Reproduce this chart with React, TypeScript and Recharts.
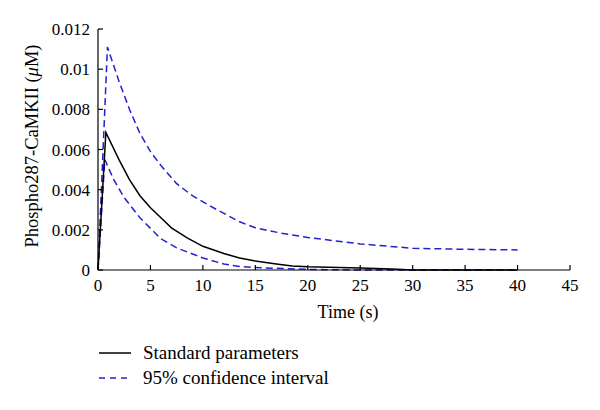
import React from "react";
import { LineChart, Line, XAxis, YAxis } from "recharts";

// time (s) and phospho287-CaMKII (uM)
const standardTime = [0, 0.75, 2, 3, 4, 5, 6, 7, 8.5, 10, 12, 13.5, 15, 17, 18.5, 20, 25, 28, 30, 40];
const standardValues = [0, 0.00685, 0.0055, 0.0045, 0.0037, 0.0031, 0.0026, 0.0021, 0.0016, 0.00118, 0.00082, 0.0006, 0.00045, 0.0003, 0.0002, 0.00016, 0.0001, 0.00005, 0, 0];

const upperTime = [0, 0.9, 2, 3, 4, 5, 6, 7.5, 9, 11, 13.5, 15, 17.5, 20, 25, 30, 35, 40];
const upperValues = [0, 0.0111, 0.0094, 0.008, 0.0068, 0.0059, 0.0052, 0.0043, 0.0037, 0.0031, 0.0024, 0.0021, 0.00183, 0.00162, 0.0013, 0.00108, 0.00103, 0.001];

const lowerTime = [0, 0.65, 1.5, 2.5, 4, 6, 7.5, 10, 12, 13.5, 16, 20, 25, 40];
const lowerValues = [0, 0.0055, 0.0045, 0.0036, 0.0026, 0.00155, 0.0011, 0.0006, 0.0003, 0.00017, 0.0001, 0.00003, 0, 0];

const xTicks = [0, 5, 10, 15, 20, 25, 30, 35, 40, 45];
const yTicks = [0, 0.002, 0.004, 0.006, 0.008, 0.01, 0.012];

const legendLabels = ["Standard parameters", "95% confidence interval"];

const toPoints = (t: number[], v: number[]) => t.map((x, i) => ({ t: x, v: v[i] }));

const FONT = "'Liberation Serif', 'DejaVu Serif', serif";
const BLUE = "#2222cc";

const XTick = ({ x, y, payload }: any) => (
  <g>
    <line x1={x} x2={x} y1={y} y2={y - 5} stroke="#000" strokeWidth={1.2} />
    <text x={x} y={y + 21} textAnchor="middle" fontFamily={FONT} fontSize={17} fill="#000">
      {payload.value}
    </text>
  </g>
);

const YTick = ({ x, y, payload }: any) => (
  <g>
    <line x1={x} x2={x + 5} y1={y} y2={y} stroke="#000" strokeWidth={1.2} />
    <text x={x - 8} y={y + 6} textAnchor="end" fontFamily={FONT} fontSize={17} fill="#000">
      {payload.value === 0 ? "0" : String(payload.value)}
    </text>
  </g>
);

const YLabel = () => (
  <text
    x={38}
    y={146}
    transform="rotate(-90, 38, 146)"
    textAnchor="middle"
    fontFamily={FONT}
    fontSize={18.5}
    fill="#000"
  >
    Phospho287-CaMKII (<tspan fontStyle="italic">μ</tspan>M)
  </text>
);

const LegendBox = () => (
  <div style={{ position: "absolute", left: 99, top: 340, fontFamily: FONT, fontSize: 19, color: "#000" }}>
    {legendLabels.map((label, i) => (
      <div key={label} style={{ display: "flex", alignItems: "center", height: 25 }}>
        <svg width={44} height={10}>
          <line
            x1={0}
            x2={32}
            y1={5}
            y2={5}
            stroke={i === 0 ? "#000" : BLUE}
            strokeWidth={1.5}
            strokeDasharray={i === 0 ? undefined : "6 5"}
          />
        </svg>
        <span>{label}</span>
      </div>
    ))}
  </div>
);

export default function App() {
  return (
    <div style={{ position: "absolute", left: 0, top: 0, width: 600, height: 410, background: "#fff" }}>
      <LineChart width={600} height={410} margin={{ top: 29, right: 30, bottom: 90, left: 38 }}>
        <XAxis
          dataKey="t"
          type="number"
          domain={[0, 45]}
          ticks={xTicks}
          tickSize={0}
          tickMargin={0}
          tickLine={false}
          tick={<XTick />}
          height={50}
          stroke="#000"
          strokeWidth={1.2}
          allowDuplicatedCategory={false}
          label={{ value: "Time (s)", position: "insideBottom", offset: 0, dy: -2, dx: 14, fontFamily: FONT, fontSize: 18, fill: "#000" }}
        />
        <YAxis
          type="number"
          domain={[0, 0.012]}
          ticks={yTicks}
          tickSize={0}
          tickMargin={0}
          tickLine={false}
          tick={<YTick />}
          width={60}
          stroke="#000"
          strokeWidth={1.2}
          label={<YLabel />}
        />
        <Line
          data={toPoints(upperTime, upperValues)}
          dataKey="v"
          name="95% confidence interval"
          stroke={BLUE}
          strokeWidth={1.5}
          strokeDasharray="7 4"
          dot={false}
          isAnimationActive={false}
        />
        <Line
          data={toPoints(lowerTime, lowerValues)}
          dataKey="v"
          name="95% confidence interval (lower)"
          stroke={BLUE}
          strokeWidth={1.5}
          strokeDasharray="7 4"
          dot={false}
          isAnimationActive={false}
        />
        <Line
          data={toPoints(standardTime, standardValues)}
          dataKey="v"
          name="Standard parameters"
          stroke="#000"
          strokeWidth={1.5}
          dot={false}
          isAnimationActive={false}
        />
      </LineChart>
      <LegendBox />
    </div>
  );
}
